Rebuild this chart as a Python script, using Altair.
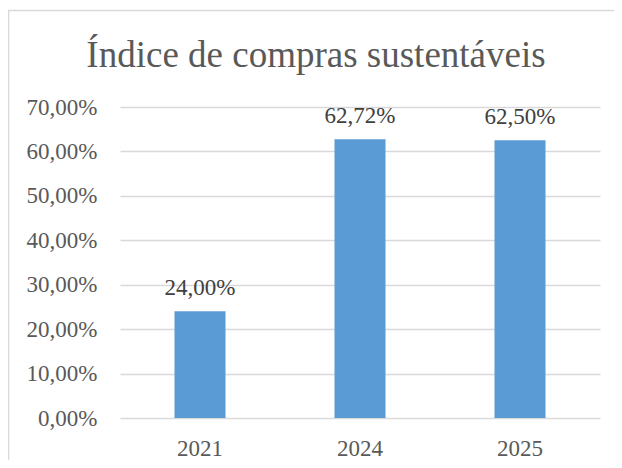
import altair as alt
import pandas as pd

years = ["2021", "2024", "2025"]
values = [0.24, 0.6272, 0.625]
title_text = "Índice de compras sustentáveis"
y_ticks = [0, 0.1, 0.2, 0.3, 0.4, 0.5, 0.6, 0.7]

df = pd.DataFrame({"ano": years, "valor": values})
one = pd.DataFrame({"t": [title_text]})

FONT = "Liberation Serif"
GRAY = "#595959"

x_enc = alt.X("ano:N", sort=years, title=None,
              scale=alt.Scale(paddingInner=0, paddingOuter=0),
              axis=alt.Axis(labelAngle=0, ticks=False, domain=False,
                            labelPadding=19, labelFont=FONT, labelFontSize=23,
                            labelColor=GRAY, grid=False))
y_enc = alt.Y("valor:Q", title=None,
              scale=alt.Scale(domain=[0, 0.7], nice=False),
              axis=alt.Axis(values=y_ticks, ticks=False, domain=False,
                            labelPadding=23, labelFont=FONT, labelFontSize=23,
                            labelColor=GRAY, grid=True, gridColor="#d9d9d9",
                            gridWidth=1.3,
                            labelExpr="replace(format(datum.value, '.2%'), '.', ',')"))

base = alt.Chart(df).transform_calculate(
    lbl="replace(format(datum.valor, '.2%'), '.', ',')"
).encode(x=x_enc, y=y_enc)
bars = base.mark_bar(width=51, color="#5B9BD5")
labels = base.mark_text(font=FONT, fontSize=23, color="#404040",
                        baseline="alphabetic", dy=-16).encode(text="lbl:N")

title = alt.Chart(one).mark_text(font=FONT, fontSize=37, color=GRAY,
                                 baseline="alphabetic", align="center").encode(
    text="t:N", x=alt.value(196), y=alt.value(-40))

frame = alt.Chart(one).mark_rect(fillOpacity=0, stroke="#d9d9d9", strokeWidth=1.5).encode(
    x=alt.value(-111.5), x2=alt.value(520), y=alt.value(-96.5), y2=alt.value(400))

chart = alt.layer(frame, bars, labels, title).properties(
    width=480, height=311,
    autosize=alt.AutoSizeParams(type="none"),
    padding={"left": 112, "top": 99, "right": 14, "bottom": 42},
).configure(background="white").configure_view(strokeOpacity=0, strokeWidth=0
).configure_axisX(grid=False, domain=False, ticks=False
).configure_axisY(domain=False, ticks=False)

chart.save("out.html", embed_options={"renderer": "svg", "actions": False})
